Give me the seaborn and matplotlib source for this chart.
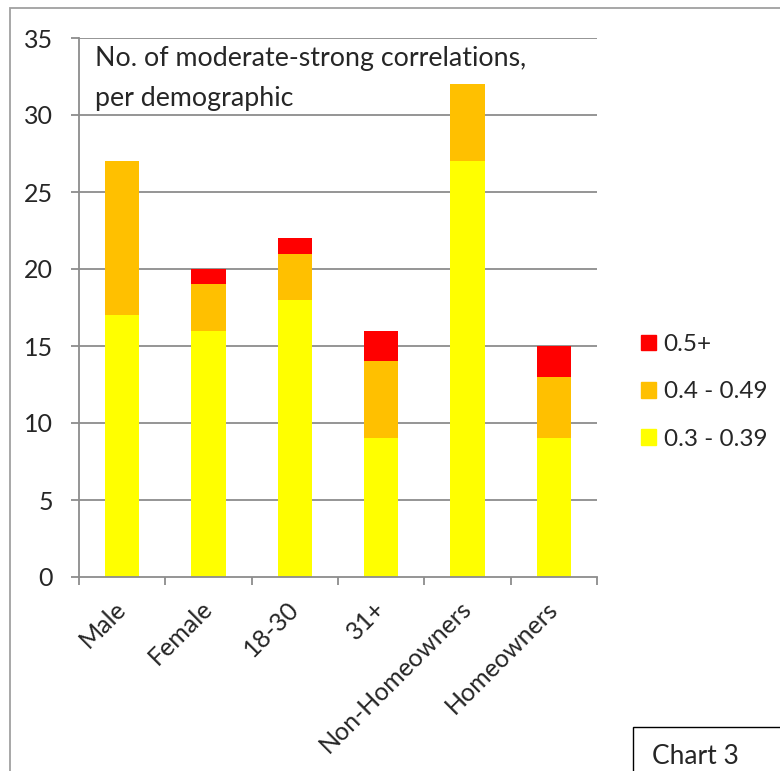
import matplotlib
matplotlib.use("Agg")
import matplotlib.pyplot as plt
import matplotlib.patches as mpatches
import seaborn as sns
import pandas as pd

categories = ["Male", "Female", "18-30", "31+", "Non-Homeowners", "Homeowners"]
low = [17, 16, 18, 9, 27, 9]        # 0.3 - 0.39
mid = [10, 3, 3, 5, 5, 4]           # 0.4 - 0.49
high = [0, 1, 1, 2, 0, 2]           # 0.5+
series_labels = ["0.5+", "0.4 - 0.49", "0.3 - 0.39"]
series_colors = ["#FF0000", "#FFC000", "#FFFF00"]
yticks = [0, 5, 10, 15, 20, 25, 30, 35]

sns.set_theme(style="white")
plt.rcParams["font.family"] = ["Lato", "DejaVu Sans"]

df = pd.DataFrame({"category": categories, "low": low, "mid": mid, "high": high})
df["low_mid"] = df["low"] + df["mid"]
df["total"] = df["low_mid"] + df["high"]

fig = plt.figure(figsize=(7.8, 7.71), dpi=100)
ax = fig.add_axes([79 / 780, 1 - 577 / 771, (597 - 79) / 780, (577 - 38) / 771])

grid_color = "#8C8C8C"
for col, color in zip(["total", "low_mid", "low"], series_colors):
    sns.barplot(data=df, x="category", y=col, color=color, width=0.4,
                saturation=1, ax=ax, zorder=3, linewidth=0)

ax.set_xlim(-0.5, len(categories) - 0.5)
ax.set_ylim(0, 35)
ax.set_yticks(yticks)
ax.set_yticklabels([str(t) for t in yticks], fontsize=18)
for t in yticks[1:]:
    ax.axhline(t, color=grid_color, linewidth=1.3, zorder=1)

ax.set_xticks(range(len(categories)))
ax.set_xticklabels(categories, fontsize=18, rotation=45, ha="right",
                   va="center", rotation_mode="anchor")
ax.tick_params(axis="x", which="major", length=0, pad=20)
ax.set_xticks([i - 0.5 for i in range(len(categories) + 1)], minor=True)
ax.tick_params(axis="x", which="minor", length=5.8, width=1.3, color=grid_color,
               direction="out", bottom=True)
ax.tick_params(axis="y", length=5.8, width=1.3, color=grid_color,
               direction="out", left=True, pad=13)
ax.set_xlabel("")
ax.set_ylabel("")
for side in ["top", "right"]:
    ax.spines[side].set_visible(False)
for side in ["left", "bottom"]:
    ax.spines[side].set_color(grid_color)
    ax.spines[side].set_linewidth(1.3)
    ax.spines[side].set_zorder(4)

ax.text(0.03, 0.985, "No. of moderate-strong correlations,\nper demographic",
        transform=ax.transAxes, ha="left", va="top", fontsize=19.3,
        linespacing=1.75, zorder=5)

handles = [mpatches.Patch(color=c, label=l) for c, l in zip(series_colors, series_labels)]
fig.legend(handles=handles, loc="upper left", bbox_to_anchor=(629 / 780, 1 - 322 / 771),
           frameon=False, fontsize=17.5, handlelength=0.62, handleheight=0.62,
           handletextpad=0.3, labelspacing=1.08, borderpad=0)

# outer chart frame
fig.add_artist(mpatches.Rectangle((10 / 780, -0.1), 1.2, 1 - 8 / 771 + 0.1,
                                  transform=fig.transFigure, fill=False,
                                  edgecolor="#A0A0A0", linewidth=1.3))
# caption box
fig.add_artist(mpatches.Rectangle((633 / 780, -0.1), 0.5, 0.1 + 1 - 727 / 771,
                                  transform=fig.transFigure, fill=False,
                                  edgecolor="black", linewidth=1.0))
fig.text(652 / 780, 1 - 757 / 771, "Chart 3", fontsize=19, ha="left", va="center")

fig.savefig("out.png", dpi=100)
